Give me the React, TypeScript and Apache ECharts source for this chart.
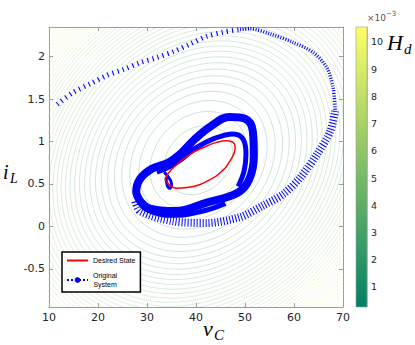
import React, { useEffect, useRef } from 'react';
import * as echarts from 'echarts';

// ---- axes ----
const xRange = [10, 70];
const yRange = [-0.95, 2.35];
const colorbarRange = [0.26, 10.55]; // x 10^-3

// ---- H_d contour field (levels in 10^-3) ----
const contourLevels = [
  0.25, 0.5, 0.75, 1.0, 1.25, 1.5, 1.75, 2.0, 2.25, 2.5, 2.75, 3.0, 3.25, 3.5, 3.75, 4.0,
  4.25, 4.5, 4.75, 5.0, 5.25, 5.5, 5.75, 6.0, 6.25, 6.5, 6.75, 7.0, 7.25, 7.5, 7.75, 8.0,
  8.25, 8.5, 8.75, 9.0, 9.25, 9.5, 9.75, 10.0, 10.25, 10.5,
];
const hdCenter = [40.5, 0.78];
const hdScale = [4.9, 84.5];
const hdRho = 0.2;
const hdK = 2.21e-4;

// ---- Desired State (red limit cycle) ----
const desiredState = [
  [33.7, 0.55], [36.1, 0.45], [39.5, 0.47], [42.2, 0.53], [44.9, 0.63], [46.9, 0.77],
  [48.0, 0.93], [47.6, 0.99], [46.3, 1.01], [44.2, 0.99], [41.5, 0.93], [38.8, 0.85],
  [36.1, 0.73], [34.4, 0.63], [33.7, 0.55],
];

// ---- Original System trajectory ----
const outerTop = [
  [11.7, 1.44], [15.0, 1.58], [18.4, 1.68], [21.8, 1.78], [25.2, 1.85], [28.6, 1.93],
  [32.0, 1.99], [35.4, 2.06], [38.8, 2.15], [42.2, 2.24], [45.6, 2.29], [49.0, 2.32],
];
const outerRight = [
  [49.0, 2.32], [51.0, 2.33], [55.1, 2.27], [59.8, 2.17], [63.9, 2.05], [66.7, 1.87],
  [68.0, 1.63], [68.4, 1.36],
];
const outerLower = [
  [68.4, 1.36], [67.4, 1.12], [64.7, 0.85], [61.2, 0.57], [57.8, 0.38], [53.5, 0.24],
  [49.0, 0.11], [42.2, 0.04], [35.3, 0.06], [28.6, 0.18], [27.6, 0.30],
];
const bandOuter = [
  [28.6, 0.30], [30.6, 0.21], [35.7, 0.18], [42.2, 0.28], [48.6, 0.40], [50.9, 0.56],
  [51.8, 0.83], [51.6, 1.12], [50.0, 1.27], [46.9, 1.29], [43.0, 1.18], [39.6, 1.02],
  [36.9, 0.86], [34.3, 0.75], [31.0, 0.68], [28.6, 0.56], [27.8, 0.41], [28.6, 0.30],
];
const bandInner = [
  [32.0, 0.64], [34.5, 0.70], [37.0, 0.79], [39.8, 0.92], [43.9, 1.04], [47.6, 1.09],
  [49.6, 1.03], [50.2, 0.85], [49.8, 0.65], [48.6, 0.47],
];
const bandLower = [
  [27.9, 0.46], [28.4, 0.29], [31.0, 0.17], [36.0, 0.13], [42.0, 0.19], [46.0, 0.27],
];
const knot = [
  [33.5, 0.64], [34.5, 0.57], [35.0, 0.50], [34.6, 0.45], [34.1, 0.49], [33.9, 0.58],
];

const BLUE = '#0000ff';
const RED = '#ff0000';
const AXIS = '#9c9c9c';
const LABEL = '#262626';

function summer(v: number): string {
  const t = Math.min(1, Math.max(0, (v - colorbarRange[0]) / (colorbarRange[1] - colorbarRange[0])));
  return `rgb(${Math.round(255 * t)},${Math.round(128 + 127 * t)},102)`;
}

function contourRing(level: number): number[][] {
  const pts: number[][] = [];
  const n = 120;
  for (let i = 0; i <= n; i++) {
    const th = (i / n) * Math.PI * 2;
    const r = Math.sqrt(level / (hdK * (1 - hdRho * Math.sin(2 * th))));
    pts.push([hdCenter[0] + (r * Math.cos(th)) / hdScale[0], hdCenter[1] + (r * Math.sin(th)) / hdScale[1]]);
  }
  return pts;
}

function blueLine(data: number[][], width: number, type: any, smooth = 0.3) {
  return {
    type: 'line',
    data,
    smooth,
    symbol: 'none',
    silent: true,
    xAxisIndex: 0,
    yAxisIndex: 0,
    lineStyle: { color: BLUE, width, type },
    z: 3,
  };
}

export default function App() {
  const ref = useRef<HTMLDivElement>(null);
  useEffect(() => {
    if (!ref.current) return;
    const chart = echarts.init(ref.current, null, { renderer: 'svg' });
    const axisCommon = {
      axisLine: { show: true, onZero: false, lineStyle: { color: AXIS, width: 1 } },
      axisTick: { show: true, inside: true, length: 4, lineStyle: { color: AXIS } },
      splitLine: { show: false },
    };
    const contourSeries = contourLevels.map((l) => ({
      type: 'line',
      data: contourRing(l),
      symbol: 'none',
      silent: true,
      xAxisIndex: 0,
      yAxisIndex: 0,
      lineStyle: { color: summer(l), width: 0.5, opacity: 0.45 },
      z: 1,
    }));
    const option: any = {
      animation: false,
      backgroundColor: '#ffffff',
      grid: [
        { left: 49, top: 27, width: 294, height: 280 },
        { left: 356, top: 27, width: 11, height: 280 },
      ],
      xAxis: [
        {
          type: 'value', gridIndex: 0, min: xRange[0], max: xRange[1], interval: 10, position: 'bottom',
          ...axisCommon,
          axisLabel: { color: LABEL, fontSize: 11, margin: 5, fontFamily: 'DejaVu Sans' },
        },
        {
          type: 'value', gridIndex: 0, min: xRange[0], max: xRange[1], interval: 10, position: 'top',
          ...axisCommon,
          axisLabel: { show: false },
        },
        { type: 'value', gridIndex: 1, min: 0, max: 1, show: false },
      ],
      yAxis: [
        {
          type: 'value', gridIndex: 0, min: yRange[0], max: yRange[1], position: 'left',
          ...axisCommon,
          axisLabel: { color: LABEL, fontSize: 11, margin: 4, fontFamily: 'DejaVu Sans', showMinLabel: false, showMaxLabel: false },
        },
        {
          type: 'value', gridIndex: 0, min: yRange[0], max: yRange[1], position: 'right',
          ...axisCommon,
          axisLabel: { show: false },
        },
        {
          type: 'value', gridIndex: 1, min: colorbarRange[0], max: colorbarRange[1], splitNumber: 10, position: 'right',
          axisLine: { show: true, onZero: false, lineStyle: { color: AXIS, width: 0.6 } },
          axisTick: { show: true, inside: true, length: 2, lineStyle: { color: '#555' } },
          splitLine: { show: false },
          axisLabel: { color: LABEL, fontSize: 9.5, margin: 4, fontFamily: 'DejaVu Sans', showMinLabel: false, showMaxLabel: false },
        },
      ],
      legend: {
        left: 62,
        top: 252,
        orient: 'vertical',
        padding: [5, 5, 4, 4],
        itemGap: 8,
        itemWidth: 21,
        itemHeight: 7,
        backgroundColor: '#ffffff',
        borderColor: '#000000',
        borderWidth: 1.5,
        borderRadius: 0,
        data: [
          { name: 'Desired State', itemStyle: { opacity: 0 } },
          { name: 'Original System' },
        ],
        formatter: (name: string) => (name === 'Original System' ? '{c|Original}\n{c|System}' : name),
        textStyle: {
          fontSize: 7,
          color: '#000',
          fontFamily: 'Liberation Sans',
          rich: { c: { align: 'center', fontSize: 7, fontFamily: 'Liberation Sans', color: '#000', lineHeight: 9 } },
        },
      },
      series: [
        ...contourSeries,
        {
          type: 'custom',
          xAxisIndex: 2,
          yAxisIndex: 2,
          silent: true,
          data: [[0, colorbarRange[0], 1, colorbarRange[1]]],
          renderItem: (params: any, api: any) => {
            const p0 = api.coord([api.value(0), api.value(1)]);
            const p1 = api.coord([api.value(2), api.value(3)]);
            return {
              type: 'rect',
              shape: { x: p0[0], y: p1[1], width: p1[0] - p0[0], height: p0[1] - p1[1] },
              style: {
                fill: new echarts.graphic.LinearGradient(0, 1, 0, 0, [
                  { offset: 0, color: '#008066' },
                  { offset: 1, color: '#ffff66' },
                ]),
                stroke: AXIS,
                lineWidth: 0.6,
              },
            };
          },
        },
        blueLine(outerTop, 5, [1.1, 4.2]),
        blueLine(outerRight, 3.5, [1, 1.6]),
        blueLine(outerLower, 8, [1, 2]),
        blueLine(bandLower, 5, 'solid', 0.4),
        blueLine(bandOuter, 8, 'solid', 0.4),
        blueLine(bandInner, 5, 'solid', 0.4),
        blueLine(knot, 3, 'solid', 0.5),
        {
          name: 'Original System',
          type: 'line',
          data: [],
          symbol: 'circle',
          symbolSize: 6,
          itemStyle: { color: BLUE },
          lineStyle: { color: BLUE, width: 2, type: 'dotted' },
          xAxisIndex: 0,
          yAxisIndex: 0,
        },
        {
          name: 'Desired State',
          type: 'line',
          data: desiredState,
          smooth: 0.5,
          symbol: 'none',
          itemStyle: { color: RED },
          lineStyle: { color: RED, width: 1.5 },
          xAxisIndex: 0,
          yAxisIndex: 0,
          z: 5,
        },
      ],
      graphic: [
        { type: 'text', left: 203, top: 317, style: { text: 'v', font: 'italic 22px "Liberation Serif"', fill: '#000' } },
        { type: 'text', left: 214, top: 327, style: { text: 'C', font: 'italic 15px "Liberation Serif"', fill: '#000' } },
        { type: 'text', left: 3, top: 162, style: { text: 'i', font: 'italic 20px "Liberation Serif"', fill: '#000' } },
        { type: 'text', left: 10, top: 171, style: { text: 'L', font: 'italic 14px "Liberation Serif"', fill: '#000' } },
        { type: 'text', left: 387, top: 31, style: { text: 'H', font: 'italic 22px "Liberation Serif"', fill: '#000' } },
        { type: 'text', left: 404, top: 41, style: { text: 'd', font: 'italic 15px "Liberation Serif"', fill: '#000' } },
        { type: 'text', left: 367, top: 13, style: { text: '×10', font: '9px "DejaVu Sans"', fill: '#555' } },
        { type: 'text', left: 386, top: 10, style: { text: '\u22123', font: '7px "DejaVu Sans"', fill: '#555' } },
      ],
    };
    chart.setOption(option);
    return () => chart.dispose();
  }, []);
  return <div ref={ref} style={{ width: 415, height: 345, position: 'absolute', left: 0, top: 0 }} />;
}
